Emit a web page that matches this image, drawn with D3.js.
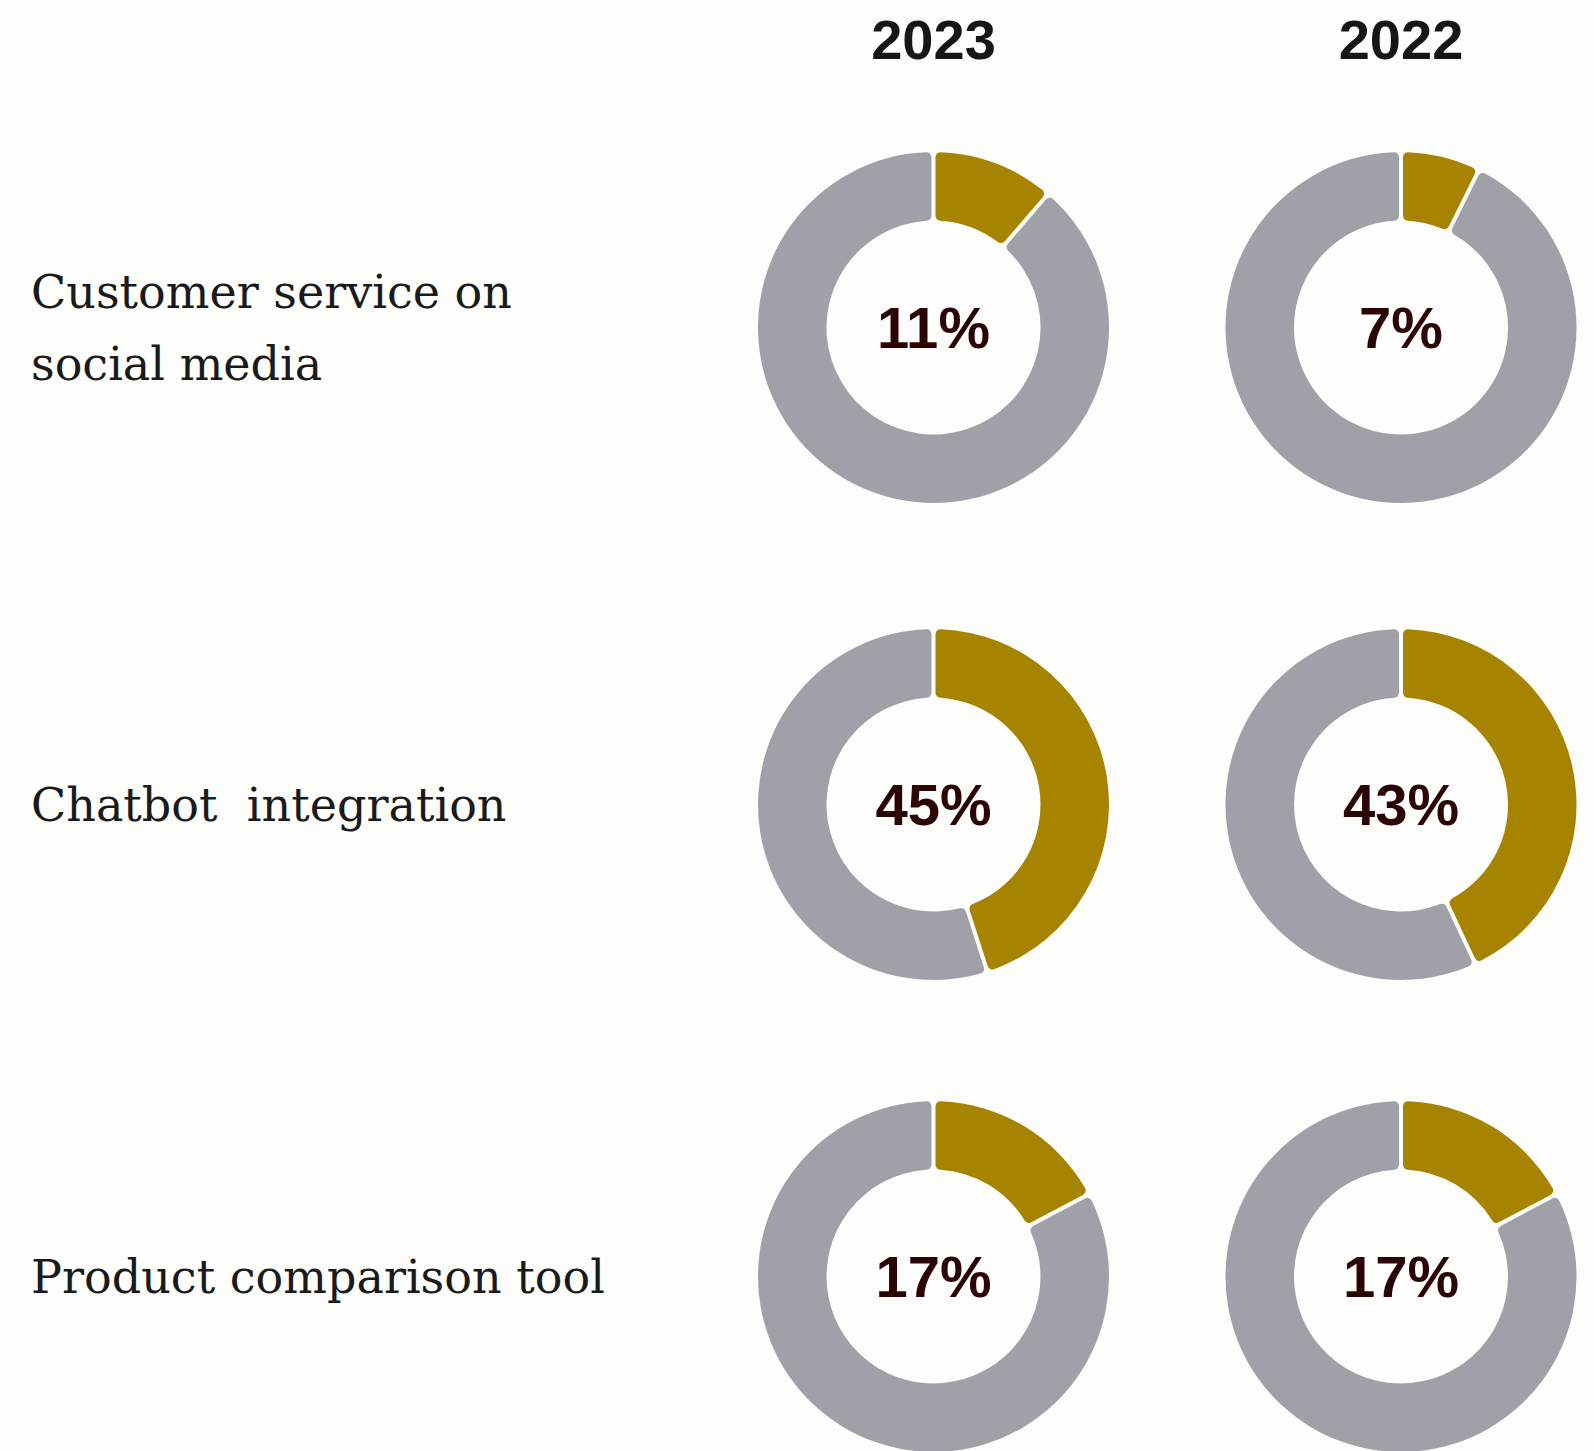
<!DOCTYPE html>
<html>
<head>
<meta charset="utf-8">
<script src="https://cdn.jsdelivr.net/npm/d3@7"></script>
<style>
  html, body { margin: 0; padding: 0; background: #fdfdfb; }
  svg { display: block; }
</style>
</head>
<body>
<div id="chart"></div>
<script>
const years = ["2023", "2022"];
const categories = [["Customer service on", "social media"], ["Chatbot  integration"], ["Product comparison tool"]];
const values2023 = [11, 45, 17];
const values2022 = [7, 43, 17];

const width = 1594, height = 1451;
const colors = { share: "#a68400", rest: "#a0a0a8", bg: "#fdfdfb" };
const outer = 175.5, inner = 107;

const svg = d3.select("#chart")
    .append("svg")
    .attr("width", width)
    .attr("height", height);

svg.append("rect").attr("width", width).attr("height", height).attr("fill", colors.bg);

// layout scales
const x = d3.scalePoint().domain(years).range([933.5, 1401]);
const y = d3.scaleOrdinal().domain(d3.range(categories.length)).range([327.5, 804.5, 1276.5]);

const pie = d3.pie().sort(null).value((d) => d.v).padAngle(4 / outer);
const arc = d3.arc().innerRadius(inner).outerRadius(outer).cornerRadius(5).padRadius(outer);

// year headers
svg.append("g")
    .selectAll("text")
    .data(years)
    .join("text")
    .attr("x", (d) => x(d))
    .attr("y", 58.5)
    .attr("text-anchor", "middle")
    .attr("fill", "#161616")
    .style("font-family", "'Liberation Sans', Arial, sans-serif")
    .style("font-weight", 700)
    .style("font-size", "56px")
    .text((d) => d);

// row labels
const labelSize = 44;
const labels = svg.append("g")
    .selectAll("text")
    .data(categories)
    .join("text")
    .attr("x", 31)
    .attr("y", (d, i) => y(i) + 16.5 - (d.length - 1) * 36)
    .attr("fill", "#1a1a1a")
    .attr("xml:space", "preserve")
    .style("white-space", "pre")
    .style("font-family", "'DejaVu Serif', serif")
    .style("font-size", labelSize + "px");
labels.selectAll("tspan")
    .data((d) => d)
    .join("tspan")
    .attr("x", 31)
    .attr("dy", (d, i) => (i === 0 ? 0 : 72))
    .text((d) => d);

// fit serif labels to the reference width of the longest line
const longest = labels.filter((d, i) => i === 2).node().getComputedTextLength();
const fitted = labelSize * 574 / longest;
labels.style("font-size", fitted + "px");

// donuts
const series = { "2023": values2023, "2022": values2022 };
years.forEach((yr) => {
    series[yr].forEach((v, i) => {
        const g = svg.append("g").attr("transform", `translate(${x(yr)},${y(i)})`);
        g.selectAll("path")
            .data(pie([{ k: "share", v: v }, { k: "rest", v: 100 - v }]))
            .join("path")
            .attr("d", arc)
            .attr("fill", (d) => colors[d.data.k]);
        g.append("text")
            .attr("y", 20)
            .attr("text-anchor", "middle")
            .attr("fill", "#2b0505")
            .style("font-family", "'Liberation Sans', Arial, sans-serif")
            .style("font-weight", 700)
            .style("font-size", "58px")
            .text(v + "%");
    });
});
</script>
</body>
</html>
